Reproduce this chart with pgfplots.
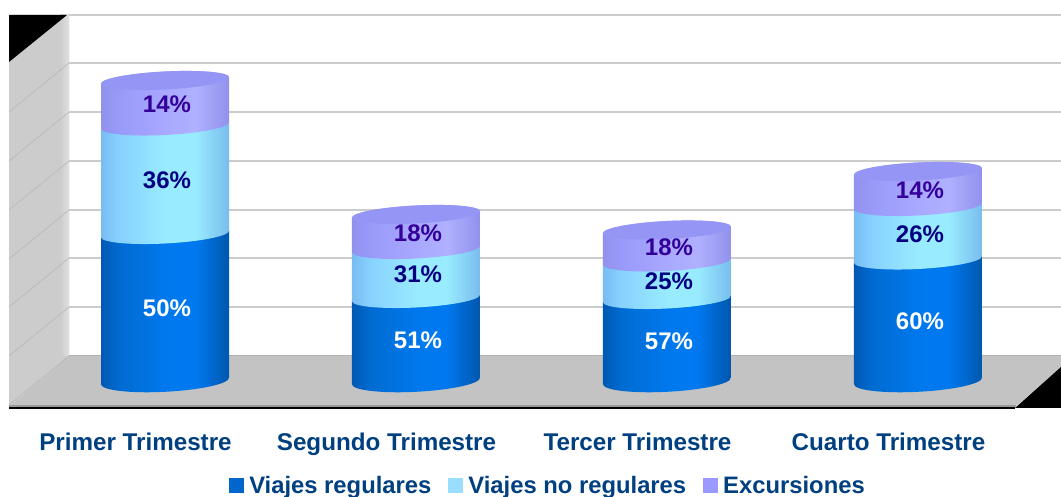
\documentclass[border=0pt]{standalone}
\usepackage{fontspec}
\setmainfont{Liberation Sans}
\usepackage{pgfplots}
\pgfplotsset{compat=1.18}
\usepackage{pgfplotstable}

\definecolor{cReg}{RGB}{0,102,204}
\definecolor{cNoreg}{RGB}{153,221,255}
\definecolor{cExc}{RGB}{153,153,255}
\definecolor{cCap}{RGB}{149,149,245}
\definecolor{cTick}{RGB}{0,64,128}
\definecolor{cWall}{RGB}{204,204,204}
\definecolor{cFloor}{RGB}{195,195,195}
\definecolor{cTxtNoreg}{RGB}{0,0,128}
\definecolor{cTxtExc}{RGB}{51,0,153}

\pgfdeclarehorizontalshading{shReg}{100bp}{
  rgb(0bp)=(0,0.35,0.70); rgb(25bp)=(0,0.35,0.70);
  rgb(32bp)=(0,0.42,0.82); rgb(50bp)=(0,0.47,0.93); rgb(62bp)=(0,0.47,0.94);
  rgb(75bp)=(0,0.34,0.68); rgb(100bp)=(0,0.34,0.68)}
\pgfdeclarehorizontalshading{shNoreg}{100bp}{
  rgb(0bp)=(0.47,0.74,0.95); rgb(25bp)=(0.47,0.74,0.95);
  rgb(32bp)=(0.53,0.82,1); rgb(50bp)=(0.60,0.92,1); rgb(62bp)=(0.60,0.92,1);
  rgb(75bp)=(0.47,0.74,0.93); rgb(100bp)=(0.47,0.74,0.93)}
\pgfdeclarehorizontalshading{shExc}{100bp}{
  rgb(0bp)=(0.57,0.57,0.93); rgb(25bp)=(0.57,0.57,0.93);
  rgb(32bp)=(0.60,0.60,0.98); rgb(50bp)=(0.66,0.66,1); rgb(62bp)=(0.69,0.69,1);
  rgb(75bp)=(0.57,0.57,0.93); rgb(100bp)=(0.57,0.57,0.93)}

% half ellipses tilted by hand: left end 3.2 low, right end 3.2 high
\newcommand{\lowarc}[2]{% #1 level, #2 y radius
  (-64pt,#1pt-3.2pt)
  .. controls (-64pt,#1pt-3.2pt-0.5523*#2pt) and (-35.35pt,#1pt-1.77pt-#2pt) .. (0pt,#1pt-#2pt)
  .. controls (35.35pt,#1pt+1.77pt-#2pt) and (64pt,#1pt+3.2pt-0.5523*#2pt) .. (64pt,#1pt+3.2pt)}
\newcommand{\uparc}[2]{%
  .. controls (64pt,#1pt+3.2pt+0.5523*#2pt) and (35.35pt,#1pt+1.77pt+#2pt) .. (0pt,#1pt+#2pt)
  .. controls (-35.35pt,#1pt-1.77pt+#2pt) and (-64pt,#1pt-3.2pt+0.5523*#2pt) .. (-64pt,#1pt-3.2pt)}

% one cylinder slice, hanging down from the stacked value by \h
\newcommand{\cylslice}[3]{%
  \shade[draw=none,shading=#1] \lowarc{-\h}{#2} -- (64pt,3.2pt) \uparc{0}{#3} -- cycle;}
\pgfdeclareplotmark{cylreg}{\cylslice{shReg}{10.8}{9.5}}
\pgfdeclareplotmark{cylnoreg}{\cylslice{shNoreg}{9.5}{9.5}}
\pgfdeclareplotmark{cylexc}{\cylslice{shExc}{9.5}{9}%
  \fill[draw=none,cCap] \lowarc{0}{9} \uparc{0}{9} -- cycle;}

\pgfplotstableread{
pos reg   noreg exc  regp noregp excp
0   147   108.5 45   50   36     14
1   83    49    34.5 51   31     18
2   82    37.5  31.5 57   25     18
3   121.5 53.5  34.5 60   26     14
}\datatable

\pgfplotsset{
  slice/.style n args={3}{
    forget plot, only marks, stack plots=y, scatter, mark=#1,
    point meta=\thisrow{#2p},
    visualization depends on={\thisrow{#2}\as\h},
    scatter/@pre marker code/.code={\scope},
    scatter/@post marker code/.code={\endscope},
    nodes near coords={\pgfmathprintnumber[assume math mode=true]{\pgfplotspointmeta}\%},
    nodes near coords style={anchor=center,xshift=2pt,yshift={-0.5*\h pt-1pt},
      text=#3,font=\fontsize{24}{24}\selectfont\bfseries},
  },
  legsq/.style={legend image code/.code={
    \fill[draw=none,#1] (0,-7.5pt) rectangle (15pt,7.5pt);
    \path[draw=none,fill=none] (0,0) -- (18pt,0);}},
}

\begin{document}
\begin{tikzpicture}
\useasboundingbox (0,-89pt) rectangle (1061pt,408pt);
% room of the chart, in pixels of the picture
\begin{scope}[x=1pt,y=-1pt,shift={(0,408pt)}]
  \fill[white] (0,0) rectangle (1061,497);
  \foreach \yy in {15,63,112,161,210,258,307}
    \draw[cWall,line width=1.8pt] (69,\yy) -- (1061,\yy);
  \fill[cWall] (9,15) -- (69,15) -- (69,356) -- (9,407) -- cycle;
  \shade[left color=cWall,right color=black!12] (60,15) rectangle (69,356);
  \fill[cFloor] (9,407) -- (69,356) -- (1061,356) -- (1061,367) -- (1015,407) -- cycle;
  \draw[black!30,line width=1pt] (69,356) -- (1061,356);
  \foreach \yy in {63,112,161,210,258,307,356}
    \draw[black!27,line width=0.7pt] (9,\yy+49) -- (69,\yy);
  \fill[black] (9,15) -- (67,15) -- (9,62) -- cycle;
  \fill[black] (1015,408) -- (1061,367) -- (1061,408) -- cycle;
  \fill[black!40] (9,405) rectangle (1016,407);
  \draw[black,line width=1.4pt] (9,408) -- (1015,408);
\end{scope}
\begin{axis}[
  scale only axis, width=1061pt, height=408pt,
  xmin=-0.6574, xmax=3.5697, ymin=-27, ymax=381,
  clip=false,
  axis line style={draw=none},
  tick style={draw=none},
  ytick=\empty,
  xtick={0,1,2,3},
  xticklabels={Primer Trimestre,Segundo Trimestre,Tercer Trimestre,Cuarto Trimestre},
  xticklabel style={xshift=-29.5pt,yshift=-21.5pt,text=cTick,
    font=\fontsize{24.2}{24.2}\selectfont\bfseries},
  legend columns=-1,
  legend style={at={(axis cs:1.526,-104.5)},anchor=center,draw=none,fill=none,
    font=\fontsize{23.8}{23.8}\selectfont\bfseries,text=cTick,inner sep=0pt,
    /tikz/every even column/.append style={column sep=15pt}},
]
\addlegendimage{legsq=cReg}
\addlegendimage{legsq=cNoreg}
\addlegendimage{legsq=cExc}
\addplot[slice={cylreg}{reg}{white}] table[x=pos,y=reg] {\datatable};
\addplot[slice={cylnoreg}{noreg}{cTxtNoreg}] table[x=pos,y=noreg] {\datatable};
\addplot[slice={cylexc}{exc}{cTxtExc}] table[x=pos,y=exc] {\datatable};
\legend{Viajes regulares,Viajes no regulares,Excursiones}
\end{axis}
\end{tikzpicture}
\end{document}
